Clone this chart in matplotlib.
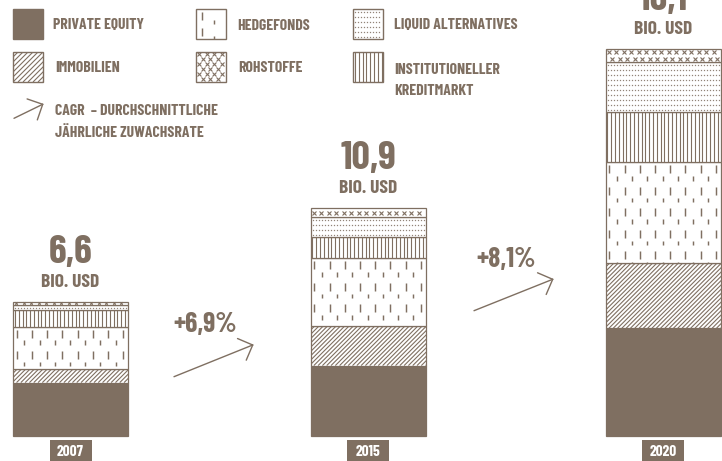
import matplotlib
matplotlib.use("Agg")
import matplotlib.pyplot as plt
import matplotlib.font_manager as fm
from matplotlib.patches import Rectangle
from matplotlib.collections import LineCollection
import numpy as np

# --- data (bio. USD) ---
years = ["2007", "2015", "2020"]
totals = ["6,6", "10,9", "16,1"]
cagr = ["+6,9%", "+8,1%"]
private_equity = [2.52, 3.33, 5.11]
immobilien = [0.65, 1.89, 3.11]
hedgefonds = [2.01, 3.22, 4.79]
kreditmarkt = [0.80, 1.03, 2.41]
liquid_alt = [0.24, 0.92, 2.38]
rohstoffe = [0.16, 0.43, 0.60]

C = "#7f6f61"
W, H = 722, 461

# condensed font, first one that is installed
names = {f.name for f in fm.fontManager.ttflist}
FONT = "DejaVu Sans"
for cand in ["Barlow Condensed", "Roboto Condensed", "Oswald", "Saira Condensed",
             "Liberation Sans Narrow"]:
    if cand in names:
        FONT = cand
        break
plt.rcParams["font.family"] = [FONT, "DejaVu Sans"]
WT = 700

fig = plt.figure(figsize=(W / 100, H / 100), dpi=100)
fig.patch.set_facecolor("white")

# bars axes: value scale, 21 px per bio.
scale = 21.0
base = 435.5
ax = fig.add_axes([0, 0, 1, 1])
ax.set_xlim(0, W)
ax.set_ylim(-(H - base) / scale, base / scale)
ax.axis("off")

# overlay in pixel coords (y down) for patterns, labels, legend
lay = fig.add_axes([0, 0, 1, 1], zorder=3)
lay.set_xlim(0, W)
lay.set_ylim(H, 0)
lay.axis("off")
lay.patch.set_alpha(0)

bar_x = [70.5, 368, 663]
bar_w = 115


def to_px(x, y):
    d = ax.transData.transform((x, y))
    return d[0], H - d[1]


def clip(x0, y0, x1, y1):
    return Rectangle((x0, y0), x1 - x0, y1 - y0, transform=lay.transData)


def pat_diag(x0, y0, x1, y1, step=4.3):
    h = y1 - y0
    segs = [[(x, y1), (x + h, y0)] for x in np.arange(x0 - h, x1 + step, step)]
    lc = LineCollection(segs, colors=C, linewidths=0.8)
    lay.add_collection(lc)
    lc.set_clip_path(clip(x0, y0, x1, y1))


def pat_vlines(x0, y0, x1, y1, step=3.8):
    segs = [[(x, y0), (x, y1)] for x in np.arange(x0 + step / 2, x1, step)]
    lc = LineCollection(segs, colors=C, linewidths=0.8)
    lay.add_collection(lc)
    lc.set_clip_path(clip(x0, y0, x1, y1))


def pat_hedge(x0, y0, x1, y1, step=7.6, period=21.5):
    segs = []
    for j, x in enumerate(np.arange(x0 + step / 2, x1, step)):
        if j % 2 == 0:
            ln, off = 8.0, 3.0
        else:
            ln, off = 4.5, 3.0 + period / 2
        for y in np.arange(y0 + off - period, y1, period):
            segs.append([(x, y), (x, y + ln)])
    lc = LineCollection(segs, colors=C, linewidths=1.05)
    lay.add_collection(lc)
    lc.set_clip_path(clip(x0, y0, x1, y1))


def pat_dots(x0, y0, x1, y1, dx=3.0, dy=5.0):
    xs, ys = [], []
    for y in np.arange(y0 + 3.0, y1 - 1, dy):
        for x in np.arange(x0 + 2.0, x1 - 1, dx):
            xs.append(x)
            ys.append(y)
    if xs:
        lay.plot(xs, ys, ls="none", marker="s", ms=0.9, mew=0, color=C, alpha=0.85)


def pat_cross(x0, y0, x1, y1, dx=7.5):
    h = y1 - y0
    nrows = max(1, int(h // 5))
    ms = min(3.2, h * 0.55)
    for r in range(nrows):
        y = y0 + h * (r + 0.5) / nrows
        start = x0 + 3 + (dx / 2 if r % 2 else 0)
        xs = np.arange(start, x1 - 1, dx)
        lay.plot(xs, [y] * len(xs), ls="none", marker="x", ms=ms, mew=0.8, color=C)


series = [
    (private_equity, C, None),
    (immobilien, "white", pat_diag),
    (hedgefonds, "white", pat_hedge),
    (kreditmarkt, "white", pat_vlines),
    (liquid_alt, "white", pat_dots),
    (rohstoffe, "white", pat_cross),
]

bottom = np.zeros(len(years))
for vals, fc, pat in series:
    bars = ax.bar(bar_x, vals, width=bar_w, bottom=bottom, color=fc,
                  edgecolor=C, linewidth=0.9)
    bottom += np.array(vals)
    if pat is None:
        continue
    for p in bars:
        px0, py1 = to_px(p.get_x(), p.get_y())
        px1, py0 = to_px(p.get_x() + p.get_width(), p.get_y() + p.get_height())
        pat(px0, py0, px1, py1)

# totals above bars + year boxes
for i, x in enumerate(bar_x):
    _, top = to_px(x, bottom[i])
    lay.text(x, top - 15, "BIO. USD", ha="center", va="baseline",
             fontsize=14, fontweight=WT, color=C)
    lay.text(x, top - 39, totals[i], ha="center", va="baseline",
             fontsize=29, fontweight=WT, color=C)
    lay.add_patch(Rectangle((x - 21, 440), 42, 21, color=C, lw=0))
    lay.text(x, 456, years[i], ha="center", va="baseline",
             fontsize=11, fontweight=WT, color="white")


def arrow(p0, p1, arm=16.5):
    (x0, y0), (x1, y1) = p0, p1
    lay.plot([x0, x1], [y0, y1], color=C, lw=1.0, solid_capstyle="round")
    ang = np.arctan2(y0 - y1, x0 - x1)
    for da in (np.pi / 4, -np.pi / 4):
        lay.plot([x1, x1 + arm * np.cos(ang + da)], [y1, y1 + arm * np.sin(ang + da)],
                 color=C, lw=1.0, solid_capstyle="round")


arrow((174, 376.7), (252.7, 345))
arrow((474, 310.7), (552.7, 279.3))
lay.text(173.3, 332, cagr[0], ha="left", va="baseline", fontsize=20,
         fontweight=WT, color=C)
lay.text(476.7, 266.5, cagr[1], ha="left", va="baseline", fontsize=20,
         fontweight=WT, color=C)

# legend
def icon(x0, y0, fc, pat):
    lay.add_patch(Rectangle((x0, y0), 30, 30, facecolor=fc, edgecolor=C, lw=1.0))
    if pat is not None:
        pat(x0, y0, x0 + 30, y0 + 30)


icon(13, 9, C, None)
icon(196, 9, "white", lambda a, b, c, d: pat_hedge(a, b, c, d, step=12, period=16))
icon(353, 9, "white", pat_dots)
icon(13, 52, "white", lambda a, b, c, d: pat_diag(a, b, c, d, step=5))
icon(196, 52, "white", pat_cross)
icon(353, 52, "white", pat_vlines)

leg = dict(fontsize=11.3, fontweight=WT, color=C, va="baseline", ha="left")
lay.text(53, 29.5, "PRIVATE EQUITY", **leg)
lay.text(237, 29.5, "HEDGEFONDS", **leg)
lay.text(394, 29.5, "LIQUID ALTERNATIVES", **leg)
lay.text(55, 72.2, "IMMOBILIEN", **leg)
lay.text(238, 72.2, "ROHSTOFFE", **leg)
lay.text(394, 73.8, "INSTITUTIONELLER", **leg)
lay.text(394, 94.8, "KREDITMARKT", **leg)
arrow((14, 118.3), (42.7, 104.3))
lay.text(55, 114.8, "CAGR  – DURCHSCHNITTLICHE", **leg)
lay.text(55, 136.5, "JÄHRLICHE ZUWACHSRATE", **leg)

fig.savefig("out.png", dpi=100, facecolor="white")
